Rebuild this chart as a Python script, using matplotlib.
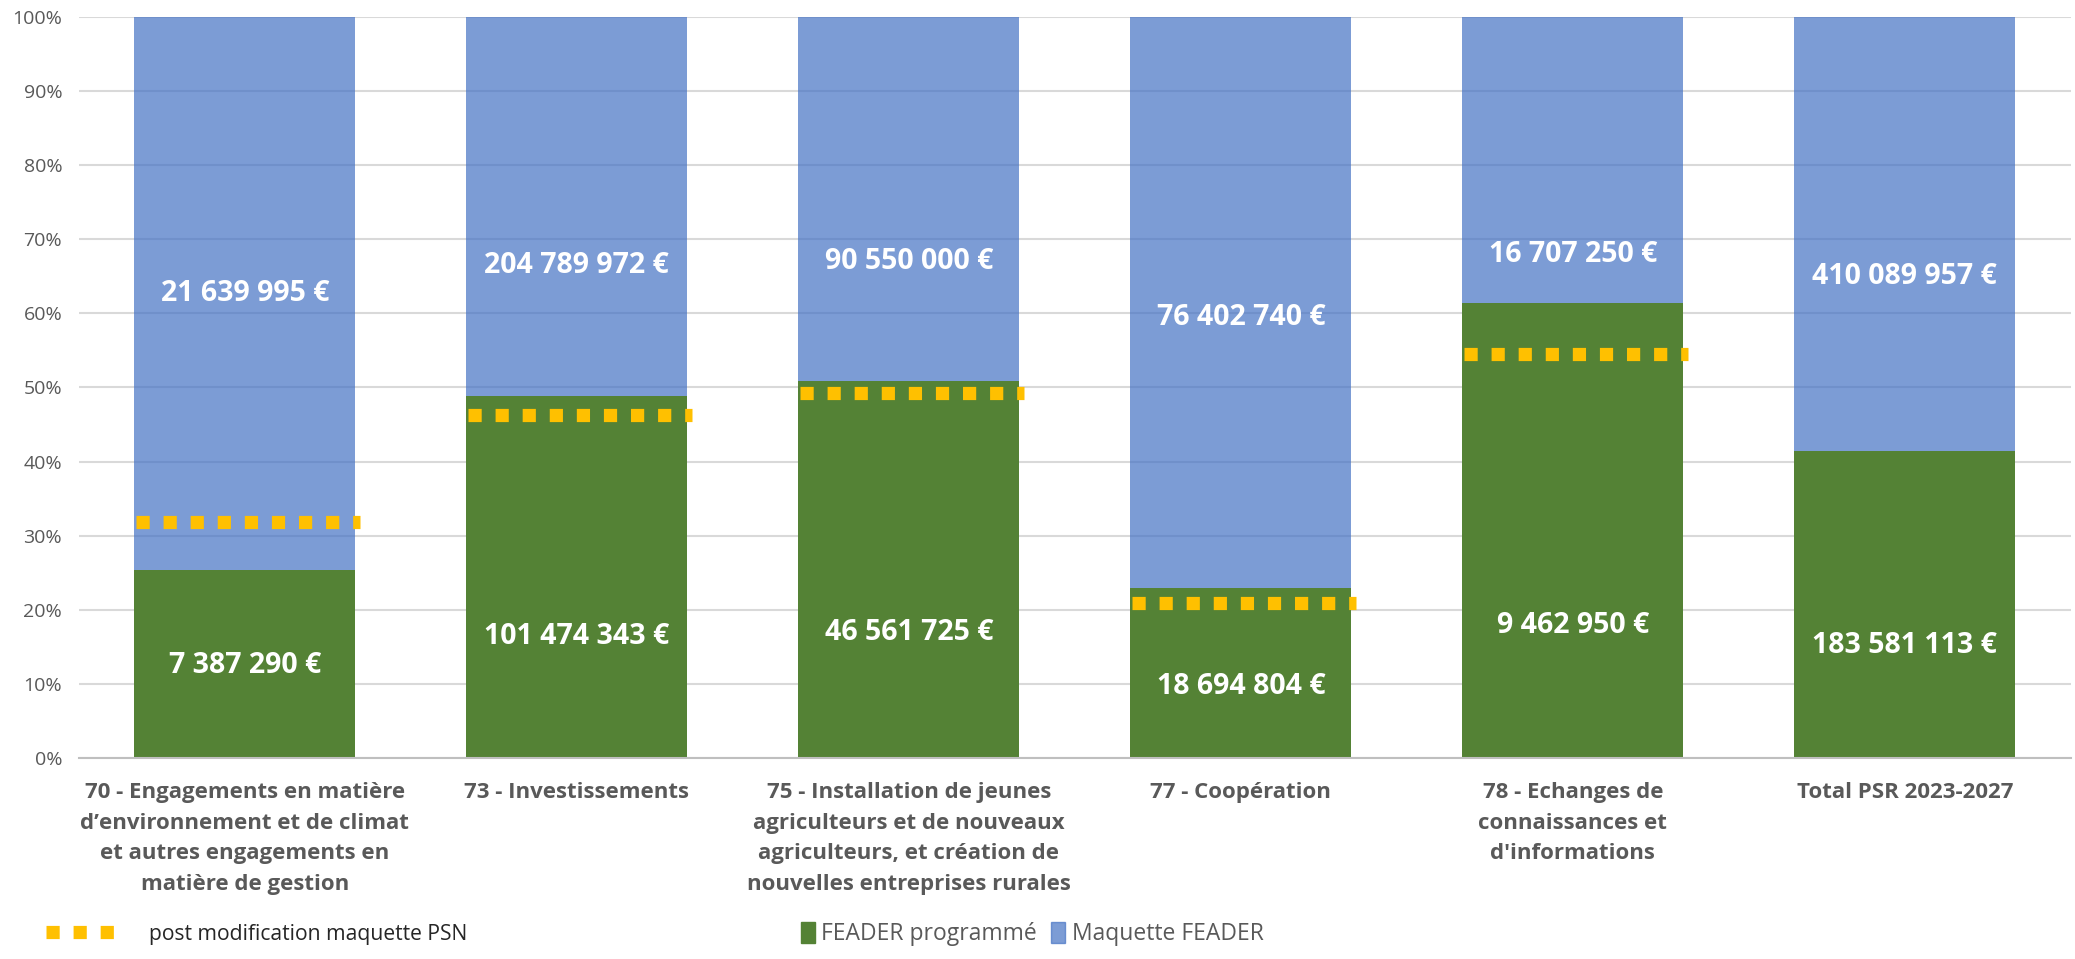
import matplotlib.pyplot as plt
import matplotlib.patches as mpatches
from matplotlib.lines import Line2D

plt.rcParams['font.family'] = ['Open Sans', 'DejaVu Sans']
plt.rcParams['lines.scale_dashes'] = False

categories = [
    "70 - Engagements en matière\nd’environnement et de climat\net autres engagements en\nmatière de gestion",
    "73 - Investissements",
    "75 - Installation de jeunes\nagriculteurs et de nouveaux\nagriculteurs, et création de\nnouvelles entreprises rurales",
    "77 - Coopération",
    "78 - Echanges de\nconnaissances et\nd'informations",
    "Total PSR 2023-2027",
]
feader_programme = [7387290, 101474343, 46561725, 18694804, 9462950, 183581113]
maquette_feader = [21639995, 204789972, 90550000, 76402740, 16707250, 410089957]
# part programmée (%)
part_programme = [25.4, 48.9, 50.9, 22.9, 61.4, 41.4]
# repère post modification maquette PSN (%)
post_modif = [31.8, 46.3, 49.3, 20.9, 54.5, None]

# hauteur des étiquettes (en %)
y_lab_vert = [12.5, 16.4, 17.0, 9.6, 17.9, 15.2]
y_lab_bleu = [62.7, 66.4, 67.0, 59.5, 68.0, 65.0]

vert = '#548235'
bleu = '#4472C4'
orange = '#FFC000'
gris = '#595959'


def euro(v):
    return f"{v:,}".replace(",", " ") + " €"


fig = plt.figure(figsize=(20.75, 9.59), dpi=100)
ax = fig.add_axes([0.038, 0.2096, 0.960, 0.7727])

x = list(range(len(categories)))
w = 0.665
reste = [100 - p for p in part_programme]

ax.bar(x, part_programme, width=w, color=vert, zorder=2)
ax.bar(x, reste, width=w, bottom=part_programme, color=bleu, alpha=0.7, zorder=2)

for i, p in enumerate(post_modif):
    if p is None:
        continue
    ax.plot([i - w / 2 + 0.005, i + w / 2 + 0.015], [p, p], color=orange, lw=9.5,
            dashes=(9.5, 10), solid_capstyle='butt', dash_capstyle='butt', zorder=3)

for i in x:
    ax.text(i, y_lab_vert[i], euro(feader_programme[i]), ha='center', va='center',
            color='white', fontsize=20.5, fontweight='bold', zorder=4)
    ax.text(i, y_lab_bleu[i], euro(maquette_feader[i]), ha='center', va='center',
            color='white', fontsize=20.5, fontweight='bold', zorder=4)

ax.set_xlim(-0.5, len(categories) - 0.5)
ax.set_ylim(0, 100)
ax.set_yticks(range(0, 101, 10))
ax.set_yticklabels([f"{v}%" for v in range(0, 101, 10)])
ax.set_xticks(x)
ax.set_xticklabels(categories, fontweight='bold', fontsize=16, color=gris, linespacing=1.62)
ax.tick_params(axis='y', length=0, labelsize=14, labelcolor=gris, pad=12)
ax.tick_params(axis='x', length=0, pad=17)
ax.yaxis.grid(True, color='#d9d9d9', lw=1.5)
ax.set_axisbelow(True)
for s in ['top', 'right', 'left']:
    ax.spines[s].set_visible(False)
ax.spines['bottom'].set_color('#bfbfbf')
ax.spines['bottom'].set_linewidth(1.5)

ligne = Line2D([], [], color=orange, lw=9.5, dashes=(9.5, 10), dash_capstyle='butt')
leg1 = fig.legend([ligne], ["post modification maquette PSN"], loc='center left',
                  bbox_to_anchor=(0.013, 0.026), frameon=False, fontsize=15.2,
                  handlelength=3.4, handletextpad=1.5, labelcolor='#262626')
leg2 = fig.legend([mpatches.Patch(color=vert), mpatches.Patch(color=bleu, alpha=0.7)],
                  ["FEADER programmé", "Maquette FEADER"], loc='center left',
                  bbox_to_anchor=(0.376, 0.026), frameon=False, fontsize=16.5, ncol=2,
                  handlelength=0.6, handleheight=1.0, handletextpad=0.3,
                  columnspacing=0.6, labelcolor=gris)

fig.savefig('out.png', dpi=100)
